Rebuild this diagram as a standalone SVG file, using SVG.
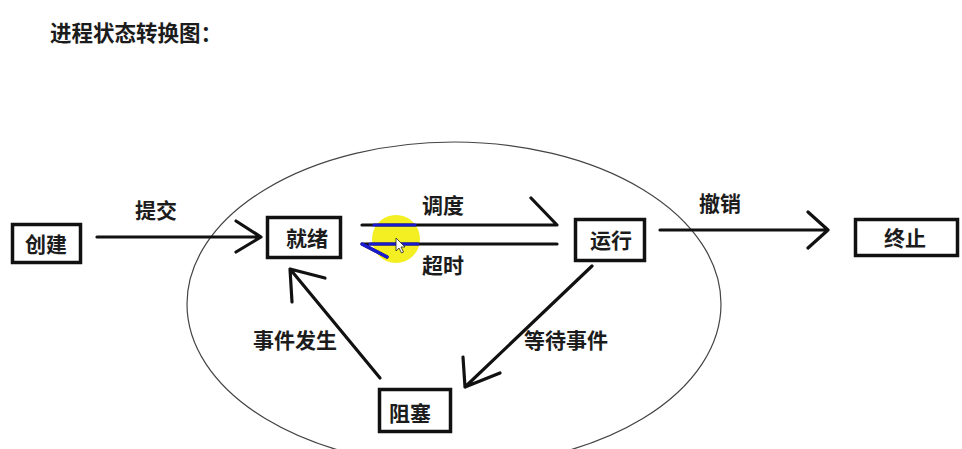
<svg xmlns="http://www.w3.org/2000/svg" width="962" height="449" viewBox="0 0 962 449">
<style>
.t{font-family:"Noto Sans CJK SC","Noto Sans",sans-serif;font-weight:700;font-size:21px;fill:#1c1c1c;text-anchor:middle;dominant-baseline:central}
.box{fill:#fff;stroke:#111;stroke-width:3.5}
.ln{fill:none;stroke:#111;stroke-width:3.2;stroke-linecap:round;stroke-linejoin:round}
.bl{fill:none;stroke:#1a1ad0;stroke-width:3.2;stroke-linecap:round}
</style>
<rect width="962" height="449" fill="#fff"/>
<text class="t" x="136" y="31" style="font-size:21.5px">进程状态转换图：</text>
<ellipse cx="454" cy="304" rx="267" ry="162" fill="none" stroke="#444" stroke-width="1.2"/>
<circle cx="396" cy="239" r="24" fill="#f3ef22"/>
<g id="connectors">
  <g id="submit">
    <path class="ln" d="M97 237 H261 M236 221 L261 237 L236 252"/>
    <text class="t" x="156" y="209">提交</text>
  </g>
  <g id="dispatch">
    <path class="ln" d="M362 225 H557 L531 198"/>
    <path class="bl" d="M374 225 H415"/>
    <text class="t" x="443" y="204">调度</text>
  </g>
  <g id="timeout">
    <path class="ln" d="M557 244 H362 L387 257"/>
    <path class="bl" d="M370 244 H418 M362 244 L387 257"/>
    <text class="t" x="443" y="264">超时</text>
  </g>
  <g id="cancel">
    <path class="ln" d="M660 230 H828 M808 212 L828 230 L808 248"/>
    <text class="t" x="720" y="202">撤销</text>
  </g>
  <g id="wait">
    <path class="ln" d="M592 266 L465 387 M463 357 L465 387 L500 373"/>
    <text class="t" x="566" y="339">等待事件</text>
  </g>
  <g id="occur">
    <path class="ln" d="M380 378 L290 269 M292 302 L290 269 L325 278"/>
    <text class="t" x="295" y="339">事件发生</text>
  </g>
</g>
<path d="M396 238 L396 251 L399 248 L401.5 253 L403.5 252 L401 247 L405 247 Z" fill="#fff" stroke="#222" stroke-width="0.8"/>
<g id="create">
  <rect class="box" x="12.5" y="224.5" width="68" height="38"/>
  <text class="t" x="46" y="243">创建</text>
</g>
<g id="ready">
  <rect class="box" x="267.5" y="217.5" width="73" height="40"/>
  <text class="t" x="307" y="237">就绪</text>
</g>
<g id="running">
  <rect class="box" x="575.5" y="219.5" width="69" height="41"/>
  <text class="t" x="611" y="239">运行</text>
</g>
<g id="terminated">
  <rect class="box" x="855.5" y="219.5" width="102" height="36"/>
  <text class="t" x="905" y="237">终止</text>
</g>
<g id="blocked">
  <rect class="box" x="379.5" y="389.5" width="71" height="42"/>
  <text class="t" x="410" y="412">阻塞</text>
</g>
</svg>
